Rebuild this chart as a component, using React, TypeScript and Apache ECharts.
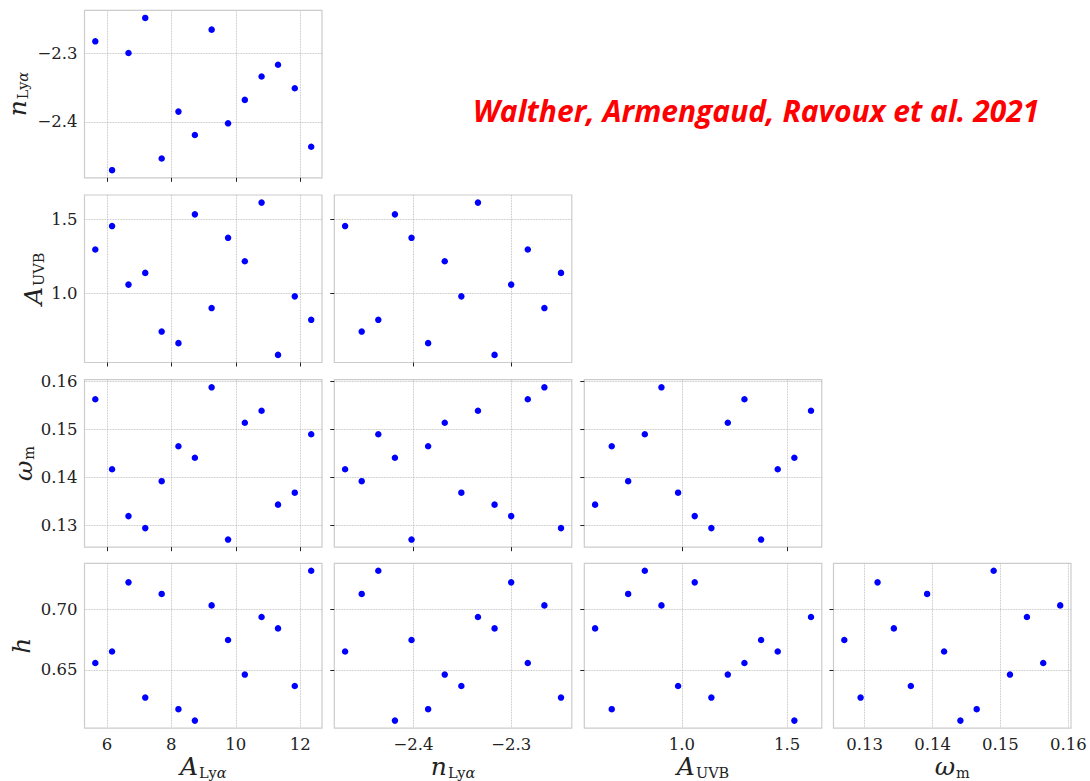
import React, { useEffect, useRef } from "react";
import * as echarts from "echarts";

// Parameter values of the 14 sample points
const A_LYA = [5.64, 6.16, 6.67, 7.19, 7.7, 8.22, 8.73, 9.25, 9.76, 10.28, 10.8, 11.31, 11.83, 12.34];
const N_LYA = [-2.283, -2.47, -2.3, -2.249, -2.453, -2.385, -2.419, -2.266, -2.402, -2.368, -2.334, -2.317, -2.351, -2.436];
const A_UVB = [1.297, 1.455, 1.061, 1.14, 0.745, 0.667, 1.534, 0.903, 1.376, 1.218, 1.613, 0.588, 0.982, 0.824];
const OMEGA_M = [0.1563, 0.1417, 0.1319, 0.1294, 0.1392, 0.1465, 0.1441, 0.1588, 0.127, 0.1514, 0.1539, 0.1343, 0.1368, 0.149];
const H = [0.6557, 0.6651, 0.7219, 0.6273, 0.7124, 0.6178, 0.6084, 0.703, 0.6746, 0.6462, 0.6935, 0.6841, 0.6368, 0.7314];

// Tick values and labels
const TICKS_A_LYA = [6, 8, 10, 12];
const LABELS_A_LYA = ["6", "8", "10", "12"];
const TICKS_N_LYA = [-2.4, -2.3];
const LABELS_N_LYA = ["\u22122.4", "\u22122.3"];
const TICKS_A_UVB = [1.0, 1.5];
const LABELS_A_UVB = ["1.0", "1.5"];
const TICKS_OMEGA_M = [0.13, 0.14, 0.15, 0.16];
const LABELS_OMEGA_M = ["0.13", "0.14", "0.15", "0.16"];
const TICKS_H = [0.65, 0.7];
const LABELS_H = ["0.65", "0.70"];

const TITLE = "Walther, Armengaud, Ravoux et al. 2021";

const PARAMS = [
  { data: A_LYA, ticks: TICKS_A_LYA, labels: LABELS_A_LYA, name: "{i|A}{s|Ly}{si|\u03b1}" },
  { data: N_LYA, ticks: TICKS_N_LYA, labels: LABELS_N_LYA, name: "{i|n}{s|Ly}{si|\u03b1}" },
  { data: A_UVB, ticks: TICKS_A_UVB, labels: LABELS_A_UVB, name: "{i|A}{s|UVB}" },
  { data: OMEGA_M, ticks: TICKS_OMEGA_M, labels: LABELS_OMEGA_M, name: "{i|\u03c9}{s|m}" },
  { data: H, ticks: TICKS_H, labels: LABELS_H, name: "{i|h}" },
];

const COL_LEFT = [84.5, 334.3, 584.3, 833.5];
const ROW_TOP = [10.3, 195, 379.7, 563.3];
const PANEL_W = 237.5;
const PANEL_H = 167.5;
const Y_NAME_GAP = [54, 38, 41, 51];
const X_NAME_GAP = 23;

const SERIF = "DejaVu Serif";
const TEXT_COLOR = "#222222";

function extent(arr: number[]) {
  const lo = Math.min(...arr);
  const hi = Math.max(...arr);
  const pad = (hi - lo) * 0.05;
  return [lo - pad, hi + pad];
}

function richStyles() {
  return {
    i: { fontFamily: SERIF, fontStyle: "italic", fontSize: 25, color: TEXT_COLOR },
    s: { fontFamily: SERIF, fontSize: 14.5, color: TEXT_COLOR, padding: [12, 0, 0, 1] },
    si: { fontFamily: SERIF, fontStyle: "italic", fontSize: 14.5, color: TEXT_COLOR, padding: [12, 0, 0, 0] },
  };
}

function buildOption() {
  const grids: any[] = [];
  const xAxes: any[] = [];
  const yAxes: any[] = [];
  const series: any[] = [];
  let g = 0;
  for (let r = 1; r < PARAMS.length; r++) {
    for (let c = 0; c < r; c++) {
      const px = PARAMS[c];
      const py = PARAMS[r];
      const isBottom = r === PARAMS.length - 1;
      const isLeft = c === 0;
      grids.push({
        left: COL_LEFT[c],
        top: ROW_TOP[r - 1],
        width: PANEL_W,
        height: PANEL_H,
        show: true,
        borderColor: "#cccccc",
        borderWidth: 1.2,
        backgroundColor: "transparent",
        containLabel: false,
      });
      const [xmin, xmax] = extent(px.data);
      const [ymin, ymax] = extent(py.data);
      xAxes.push({
        gridIndex: g,
        type: "value",
        min: xmin,
        max: xmax,
        axisLine: { show: false },
        axisTick: {
          show: !isBottom,
          customValues: px.ticks,
          length: 4,
          lineStyle: { color: TEXT_COLOR, width: 1 },
        },
        axisLabel: {
          show: isBottom,
          customValues: px.ticks,
          formatter: (v: number) => {
            const k = px.ticks.findIndex((t) => Math.abs(t - v) < 1e-9);
            return k >= 0 ? px.labels[k] : "";
          },
          fontFamily: SERIF,
          fontSize: 16.5,
          color: TEXT_COLOR,
          margin: 8,
        },
        splitLine: { show: true, lineStyle: { type: "dotted", color: "#b0b0b0", width: 0.8 } },
        name: isBottom ? px.name : "",
        nameLocation: "middle",
        nameGap: X_NAME_GAP,
        nameTextStyle: { rich: richStyles() },
      });
      yAxes.push({
        gridIndex: g,
        type: "value",
        min: ymin,
        max: ymax,
        axisLine: { show: false },
        axisTick: {
          show: !isLeft,
          customValues: py.ticks,
          length: 4,
          lineStyle: { color: TEXT_COLOR, width: 1 },
        },
        axisLabel: {
          show: isLeft,
          customValues: py.ticks,
          formatter: (v: number) => {
            const k = py.ticks.findIndex((t) => Math.abs(t - v) < 1e-9);
            return k >= 0 ? py.labels[k] : "";
          },
          fontFamily: SERIF,
          fontSize: 16.5,
          color: TEXT_COLOR,
          margin: 7,
        },
        splitLine: { show: true, lineStyle: { type: "dotted", color: "#b0b0b0", width: 0.8 } },
        name: isLeft ? py.name : "",
        nameLocation: "middle",
        nameRotate: 90,
        nameGap: Y_NAME_GAP[r - 1],
        nameTextStyle: { rich: richStyles() },
      });
      series.push({
        type: "scatter",
        xAxisIndex: g,
        yAxisIndex: g,
        symbol: "circle",
        symbolSize: 6.5,
        itemStyle: { color: "#0000ff", opacity: 1 },
        data: px.data.map((v, i) => [v, py.data[i]]),
        z: 10,
      });
      g++;
    }
  }
  return {
    animation: false,
    backgroundColor: "#ffffff",
    grid: grids,
    xAxis: xAxes,
    yAxis: yAxes,
    series,
    graphic: [
      {
        type: "text",
        left: 473,
        top: 95,
        style: {
          text: TITLE,
          fill: "#ff0000",
          fontFamily: "Open Sans",
          fontWeight: "bold",
          fontStyle: "italic",
          fontSize: 30,
        },
      },
    ],
  };
}

export default function App() {
  const ref = useRef<HTMLDivElement>(null);
  useEffect(() => {
    if (!ref.current) return;
    const chart = echarts.init(ref.current, undefined, { renderer: "svg" });
    chart.setOption(buildOption() as any);
    return () => chart.dispose();
  }, []);
  return (
    <div
      ref={ref}
      style={{ position: "fixed", left: 0, top: 0, width: 1090, height: 781, background: "#fff" }}
    />
  );
}
